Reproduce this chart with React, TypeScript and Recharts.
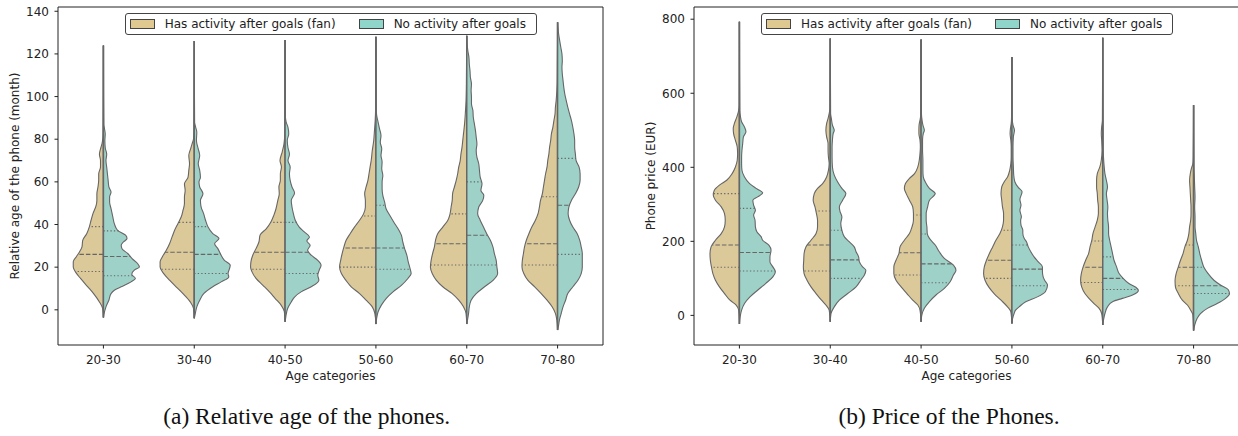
import React from "react";
import {
  ComposedChart,
  Scatter,
  XAxis,
  YAxis,
  ReferenceArea,
  Legend,
  Label,
  Curve,
} from "recharts";

const categories = ["20-30", "30-40", "40-50", "50-60", "60-70", "70-80"];
const groups = ["Has activity after goals (fan)", "No activity after goals"];
const ageTicks = [0, 20, 40, 60, 80, 100, 120, 140];
const priceTicks = [0, 200, 400, 600, 800];
const ageDomain = [-16.5, 142];
const priceDomain = [-80, 833];

// violin profiles: [value, relative half-width (1 = widest)]
const ageFan2030 = [[-3.6,0],[0.6,0.02],[3.7,0.11],[7.6,0.27],[10.8,0.43],[14.7,0.63],[17.8,0.77],[20.1,0.83],[22.5,0.83],[24.8,0.75],[27.1,0.66],[29.5,0.59],[32.6,0.57],[35.7,0.46],[38.8,0.39],[42,0.34],[45,0.29],[49,0.2],[51.3,0.18],[54.4,0.18],[57.6,0.15],[60.7,0.13],[63.8,0.13],[67,0.08],[70,0.08],[73,0.11],[76,0.07],[78.6,0.03],[82.5,0.01],[98,0.005],[124,0]];
const ageNo2030 = [[-3.6,0],[-2.5,0.01],[1.4,0.07],[4.5,0.15],[7.6,0.21],[9.2,0.3],[10.8,0.49],[13.1,0.76],[14.7,0.88],[16.7,0.78],[18.6,0.85],[20.1,0.99],[21.7,0.94],[24,0.79],[26.4,0.67],[28.7,0.51],[30.3,0.49],[31.8,0.55],[33.4,0.65],[35,0.61],[37.3,0.39],[40.4,0.3],[43.5,0.26],[47.4,0.21],[50.5,0.17],[52.9,0.17],[55.2,0.21],[57.6,0.15],[60.7,0.13],[63.8,0.11],[67,0.09],[70,0.07],[73,0.09],[76,0.05],[79.4,0.04],[82.5,0.05],[84.9,0.03],[87,0.01],[100,0.004],[124,0]];
const ageFan3040 = [[-4,0],[0.6,0.02],[3.7,0.11],[7.6,0.31],[10.8,0.5],[13.9,0.68],[17,0.84],[20.1,0.94],[22.5,0.94],[24.8,0.88],[27.9,0.77],[31,0.68],[34.2,0.61],[37.3,0.54],[40.4,0.45],[43.5,0.36],[46.6,0.31],[49.8,0.27],[52.9,0.27],[56,0.25],[59.1,0.27],[62.2,0.17],[65.4,0.15],[68.5,0.13],[72.4,0.15],[75.5,0.1],[77.8,0.06],[80.2,0.02],[84,0.01],[100,0.004],[126,0]];
const ageNo3040 = [[-4,0],[-2.5,0.02],[1.4,0.07],[4.5,0.15],[7.6,0.26],[10.8,0.51],[13.1,0.74],[15.4,0.95],[17,0.93],[19.3,0.97],[20.9,0.99],[23.2,0.83],[25.6,0.74],[28.7,0.65],[31,0.56],[33.4,0.68],[35.7,0.51],[38.8,0.38],[42,0.31],[45,0.26],[48.2,0.19],[51.3,0.17],[54.4,0.24],[57.6,0.15],[59.9,0.13],[62.2,0.17],[65.4,0.15],[68.5,0.11],[72.4,0.15],[75.5,0.11],[79.4,0.06],[83.3,0.07],[85.6,0.04],[88,0.01],[105,0.004],[126,0]];
const ageFan4050 = [[-5.6,0],[-0.9,0.02],[2.2,0.11],[5.3,0.27],[8.4,0.43],[11.5,0.61],[14.7,0.8],[17.8,0.91],[20.1,0.95],[22.5,0.94],[25.6,0.89],[28.7,0.8],[31.8,0.72],[35,0.69],[38,0.52],[41.2,0.39],[44.3,0.31],[47.4,0.25],[51.3,0.2],[54.4,0.16],[57.6,0.17],[60.7,0.13],[63.8,0.13],[67,0.1],[70,0.14],[74,0.08],[77.8,0.03],[82.5,0.01],[100,0.004],[126.5,0]];
const ageNo4050 = [[-5.6,0],[-3.3,0.02],[0.6,0.07],[3.7,0.17],[6,0.26],[8.4,0.44],[10.8,0.72],[13.9,0.93],[16.2,0.9],[18.6,0.94],[20.9,0.99],[23.2,0.9],[25.6,0.72],[27.9,0.62],[30.3,0.69],[32.3,0.6],[34.2,0.67],[36.5,0.53],[38.8,0.39],[42,0.28],[45,0.23],[48.2,0.19],[51.3,0.17],[54.8,0.26],[57.6,0.19],[60.7,0.14],[63.8,0.12],[67,0.14],[70,0.08],[73,0.12],[76,0.08],[79.4,0.06],[82.5,0.1],[85.6,0.08],[88,0.03],[90.3,0.01],[105,0.004],[126.5,0]];
const ageFan5060 = [[-6.7,0],[-1.7,0.03],[1.4,0.1],[4.5,0.27],[7.6,0.45],[10.8,0.68],[13.9,0.83],[17,0.95],[20.1,1],[23.2,0.97],[26.4,0.93],[29.5,0.88],[32.6,0.82],[35.7,0.71],[38.8,0.59],[42,0.45],[45,0.34],[48.2,0.29],[51.3,0.29],[54.4,0.31],[57.6,0.27],[60.7,0.22],[63.8,0.19],[67,0.16],[70,0.13],[74.7,0.1],[79.4,0.06],[84,0.04],[88.8,0.02],[93.4,0.01],[110,0.004],[128,0]];
const ageNo5060 = [[-6.7,0],[-4,0.02],[-0.9,0.06],[2.2,0.15],[5.3,0.28],[8.4,0.47],[11.5,0.7],[14.7,0.88],[17,0.97],[19.3,0.94],[22.5,0.89],[25.6,0.85],[28.7,0.79],[31.8,0.74],[35,0.7],[38,0.61],[41.2,0.49],[44.3,0.38],[47.4,0.28],[50.5,0.24],[53.7,0.19],[56.8,0.17],[59.9,0.17],[63,0.19],[66.1,0.16],[69.3,0.17],[72.4,0.14],[75.5,0.16],[78.6,0.12],[81.7,0.14],[84.9,0.1],[88,0.06],[90.3,0.03],[93.4,0.01],[110,0.004],[128,0]];
const ageFan6070 = [[-6.7,0],[-1.7,0.02],[1.4,0.09],[4.5,0.22],[7.6,0.4],[10.8,0.66],[13.9,0.84],[17,0.95],[20.1,1],[23.2,0.98],[26.4,0.94],[29.5,0.89],[32.6,0.86],[35.7,0.8],[38.8,0.66],[42,0.52],[45,0.46],[48.2,0.43],[51.3,0.4],[54.4,0.39],[57.6,0.34],[60.7,0.29],[63.8,0.25],[67,0.22],[70,0.18],[73,0.16],[76.3,0.13],[79.4,0.11],[82.5,0.09],[87.2,0.06],[91.9,0.04],[98,0.02],[106,0.01],[128.5,0]];
const ageNo6070 = [[-6.7,0],[-4.8,0.02],[-1.7,0.05],[1.4,0.07],[4.5,0.12],[7.6,0.26],[10.8,0.49],[13.9,0.73],[17,0.85],[20.1,0.83],[23.2,0.81],[26.4,0.76],[29.5,0.72],[32.6,0.65],[35.7,0.55],[38.8,0.46],[42,0.37],[45,0.3],[48.2,0.33],[51.3,0.44],[53.7,0.47],[56,0.39],[59.1,0.42],[62.2,0.37],[65.4,0.35],[68.5,0.33],[71.6,0.28],[74.7,0.26],[77.8,0.28],[81,0.26],[84,0.24],[87.2,0.21],[90.3,0.18],[93.4,0.17],[96.6,0.13],[99.7,0.13],[102.8,0.12],[106,0.13],[109,0.1],[112,0.09],[115.3,0.07],[118.4,0.06],[121.5,0.03],[124.6,0.01],[128.5,0]];
const ageFan7080 = [[-9.5,0],[-4.8,0.02],[-1.7,0.06],[1.4,0.15],[4.5,0.29],[7.6,0.45],[10.8,0.63],[13.9,0.82],[17,0.93],[20.1,0.98],[23.2,0.97],[26.4,0.94],[29.5,0.91],[32.6,0.86],[35.7,0.79],[38.8,0.71],[42,0.61],[45,0.54],[48.2,0.5],[51.3,0.47],[54.4,0.42],[57.6,0.39],[60.7,0.36],[63.8,0.33],[67,0.29],[70,0.27],[73,0.24],[76.3,0.22],[79.4,0.19],[82.5,0.17],[85.6,0.13],[88.8,0.1],[91.9,0.07],[95,0.06],[98,0.04],[102.8,0.02],[107.5,0.01],[134.8,0]];
const ageNo7080 = [[-9.5,0],[-8,0.02],[-4.8,0.05],[-1.7,0.1],[1.4,0.15],[4.5,0.22],[7.6,0.28],[10.8,0.42],[13.9,0.56],[17,0.65],[20.1,0.68],[23.2,0.68],[26.4,0.68],[29.5,0.65],[32.6,0.61],[35.7,0.54],[38.8,0.42],[42,0.33],[45,0.29],[48.2,0.31],[51.3,0.38],[54.4,0.49],[57.6,0.58],[60.7,0.62],[63.8,0.62],[67,0.59],[70,0.51],[73,0.49],[76.3,0.47],[79.4,0.47],[82.5,0.45],[85.6,0.42],[88.8,0.38],[91.9,0.33],[95,0.28],[98,0.24],[101,0.2],[104.4,0.17],[107.5,0.15],[110.6,0.13],[113.7,0.12],[116.8,0.13],[120,0.12],[123,0.09],[126,0.06],[129.2,0.03],[132.4,0.01],[134.8,0]];

const priceFan2030 = [[-23,0],[14,0.02],[28,0.09],[41,0.26],[59,0.41],[77,0.55],[95,0.66],[113,0.73],[131,0.77],[149,0.8],[167,0.81],[185,0.78],[203,0.66],[221,0.5],[239,0.41],[257,0.39],[275,0.41],[293,0.5],[311,0.66],[325,0.72],[338,0.69],[352,0.55],[365,0.35],[383,0.2],[401,0.11],[419,0.06],[437,0.05],[455,0.06],[473,0.11],[491,0.16],[505,0.17],[518,0.14],[536,0.07],[554,0.02],[568,0.005],[793,0]];
const priceNo2030 = [[-23,0],[-4,0.02],[14,0.06],[32,0.14],[50,0.29],[68,0.5],[86,0.72],[104,0.92],[118,0.99],[131,0.92],[145,0.84],[158,0.84],[176,0.87],[190,0.81],[203,0.64],[212,0.6],[226,0.48],[239,0.44],[257,0.43],[271,0.39],[284,0.44],[298,0.39],[311,0.37],[320,0.5],[331,0.64],[343,0.46],[356,0.28],[374,0.14],[392,0.07],[410,0.06],[428,0.06],[446,0.07],[464,0.09],[482,0.11],[496,0.18],[509,0.14],[523,0.06],[536,0.03],[554,0.01],[793,0]];
const priceFan3040 = [[-17,0],[14,0.03],[28,0.12],[41,0.24],[59,0.39],[77,0.53],[95,0.64],[113,0.72],[131,0.74],[149,0.73],[167,0.72],[185,0.67],[203,0.53],[221,0.39],[239,0.35],[257,0.35],[275,0.38],[293,0.42],[311,0.47],[329,0.44],[343,0.35],[356,0.21],[374,0.1],[392,0.05],[410,0.03],[428,0.05],[446,0.06],[464,0.06],[482,0.1],[500,0.12],[518,0.1],[532,0.06],[545,0.03],[559,0.01],[748,0]];
const priceNo3040 = [[-17,0],[5,0.02],[23,0.11],[41,0.25],[59,0.48],[77,0.71],[95,0.84],[109,0.94],[122,0.98],[131,0.89],[145,0.8],[158,0.78],[172,0.71],[185,0.66],[199,0.52],[212,0.39],[230,0.32],[248,0.29],[266,0.32],[280,0.27],[293,0.25],[311,0.34],[329,0.43],[343,0.32],[361,0.2],[379,0.11],[401,0.06],[428,0.05],[455,0.05],[473,0.06],[491,0.08],[500,0.11],[514,0.06],[532,0.03],[545,0.01],[748,0]];
const priceFan4050 = [[-17,0],[14,0.03],[28,0.09],[41,0.23],[59,0.39],[77,0.55],[95,0.69],[113,0.75],[131,0.75],[149,0.69],[167,0.61],[185,0.58],[203,0.46],[221,0.32],[239,0.25],[257,0.21],[275,0.21],[293,0.23],[311,0.32],[329,0.41],[343,0.46],[356,0.43],[370,0.32],[383,0.18],[401,0.09],[419,0.05],[437,0.03],[455,0.02],[473,0.03],[491,0.06],[505,0.06],[518,0.05],[532,0.02],[545,0.01],[745,0]];
const priceNo4050 = [[-17,0],[1,0.02],[19,0.09],[37,0.23],[55,0.41],[73,0.64],[91,0.8],[109,0.89],[122,0.96],[136,0.89],[154,0.64],[172,0.5],[190,0.39],[208,0.23],[221,0.17],[239,0.16],[257,0.14],[275,0.14],[293,0.18],[311,0.23],[329,0.39],[343,0.23],[356,0.14],[374,0.06],[392,0.05],[419,0.05],[446,0.04],[473,0.04],[491,0.06],[500,0.09],[514,0.05],[532,0.02],[545,0.01],[745,0]];
const priceFan5060 = [[-22,0],[10,0.03],[23,0.12],[41,0.3],[59,0.49],[77,0.64],[95,0.74],[113,0.78],[131,0.76],[149,0.7],[167,0.62],[185,0.53],[203,0.44],[221,0.33],[239,0.26],[257,0.23],[275,0.23],[293,0.26],[311,0.28],[329,0.3],[347,0.28],[361,0.21],[374,0.12],[392,0.06],[410,0.03],[428,0.02],[455,0.02],[473,0.03],[491,0.05],[505,0.04],[518,0.02],[536,0.01],[698,0]];
const priceNo5060 = [[-22,0],[-8,0.02],[5,0.06],[14,0.1],[23,0.2],[37,0.38],[50,0.7],[64,0.92],[82,0.98],[95,0.9],[104,0.86],[118,0.84],[131,0.84],[145,0.72],[158,0.61],[172,0.52],[185,0.45],[199,0.4],[208,0.34],[221,0.3],[230,0.3],[244,0.25],[257,0.24],[266,0.26],[284,0.22],[298,0.25],[313,0.22],[334,0.28],[345,0.18],[361,0.08],[379,0.05],[401,0.04],[428,0.03],[455,0.03],[482,0.04],[500,0.07],[514,0.03],[532,0.01],[698,0]];
const priceFan6070 = [[-26,0],[5,0.03],[19,0.1],[32,0.24],[46,0.38],[59,0.49],[77,0.58],[95,0.61],[113,0.59],[131,0.54],[149,0.47],[167,0.39],[185,0.35],[203,0.3],[221,0.27],[239,0.21],[257,0.15],[275,0.12],[293,0.12],[311,0.14],[329,0.15],[347,0.17],[365,0.17],[383,0.15],[401,0.08],[419,0.04],[446,0.02],[473,0.03],[491,0.04],[509,0.03],[527,0.01],[750,0]];
const priceNo6070 = [[-26,0],[-13,0.02],[5,0.06],[23,0.13],[37,0.27],[46,0.54],[55,0.82],[67,0.98],[76,0.91],[86,0.72],[100,0.56],[113,0.45],[131,0.38],[149,0.31],[167,0.27],[185,0.23],[203,0.19],[221,0.16],[239,0.16],[257,0.14],[275,0.13],[293,0.14],[311,0.12],[329,0.1],[347,0.13],[365,0.1],[383,0.06],[401,0.04],[428,0.02],[455,0.01],[491,0.01],[750,0]];
const priceFan7080 = [[-41,0],[1,0.02],[14,0.08],[28,0.17],[41,0.31],[59,0.42],[77,0.5],[95,0.51],[113,0.48],[131,0.42],[149,0.36],[167,0.29],[185,0.24],[203,0.17],[221,0.13],[239,0.11],[257,0.08],[275,0.07],[293,0.07],[311,0.08],[329,0.09],[347,0.1],[365,0.11],[383,0.09],[397,0.06],[410,0.02],[428,0.01],[568,0]];
const priceNo7080 = [[-41,0],[-26,0.03],[-8,0.1],[5,0.19],[19,0.38],[32,0.65],[46,0.88],[59,0.99],[70,0.95],[82,0.74],[95,0.56],[113,0.4],[131,0.28],[149,0.22],[167,0.17],[185,0.13],[203,0.08],[221,0.06],[239,0.04],[266,0.04],[293,0.03],[320,0.04],[347,0.03],[374,0.02],[401,0.01],[568,0]];

// quartiles [Q1, median, Q3] per category
const ageFanQuartiles = [[18,26,39],[19,27,41],[19,27,41],[20,29,44],[21,31,45],[21,31,53]];
const ageNoQuartiles = [[16,25,37],[17,26,39],[17,27,41],[19,29,49],[21,35,60],[26,49,71]];
const priceFanQuartiles = [[130,190,329],[120,190,282],[109,169,271],[100,149,230],[89,130,201],[80,130,190]];
const priceNoQuartiles = [[120,170,289],[100,150,230],[88,139,220],[80,125,190],[70,100,158],[59,80,130]];

const ageFan = [ageFan2030, ageFan3040, ageFan4050, ageFan5060, ageFan6070, ageFan7080];
const ageNo = [ageNo2030, ageNo3040, ageNo4050, ageNo5060, ageNo6070, ageNo7080];
const priceFan = [priceFan2030, priceFan3040, priceFan4050, priceFan5060, priceFan6070, priceFan7080];
const priceNo = [priceNo2030, priceNo3040, priceNo4050, priceNo5060, priceNo6070, priceNo7080];

const FAN_FILL = "#dcc99a";
const NO_FILL = "#9ed2c8";
const FAN_SWATCH = "#e0c991";
const NO_SWATCH = "#90d5c9";
const LINE = "#666";
const INK = "#222";
const FONT = "DejaVu Sans";

const HALF = 0.4; // half of seaborn's violin width
const CHART_W = 620;
const CHART_H = 400;
const MARGIN = { top: 7, right: 17, bottom: 0, left: 8 };
const Y_AXIS_W = 50;
const X_AXIS_H = 55;
const PLOT_L = MARGIN.left + Y_AXIS_W;
const PLOT_R = CHART_W - MARGIN.right;
const PLOT_B = CHART_H - MARGIN.bottom - X_AXIS_H;

function outline(profile: number[][], i: number, side: number) {
  // top to bottom so the curve is monotone in screen y
  return profile
    .slice()
    .reverse()
    .map(([v, d]) => ({ x: i + side * d * HALF, v }));
}

function widthAt(profile: number[][], q: number) {
  for (let k = 1; k < profile.length; k++) {
    const [v0, d0] = profile[k - 1];
    const [v1, d1] = profile[k];
    if (q >= v0 && q <= v1) return d0 + ((d1 - d0) * (q - v0)) / (v1 - v0);
  }
  return 0;
}

const NoPoint = () => <g />;

const halfViolin = (fill: string) => (props: any) => {
  const pts = props.points || [];
  if (pts.length < 2) return <g />;
  const a = pts[0];
  const b = pts[pts.length - 1];
  return (
    <g>
      <Curve points={pts} type="monotoneY" fill={fill} stroke={LINE} strokeWidth={1.1} />
      <line x1={a.x} y1={a.y} x2={b.x} y2={b.y} stroke={LINE} strokeWidth={1.5} />
    </g>
  );
};

const quartileLine = (dash: string) => (props: any) => {
  const pts = props.points || [];
  if (pts.length < 2) return <g />;
  return (
    <line
      x1={pts[0].x}
      y1={pts[0].y}
      x2={pts[1].x}
      y2={pts[1].y}
      stroke={LINE}
      strokeWidth={1.1}
      strokeDasharray={dash}
    />
  );
};

const LegendBox = () => (
  <div
    style={{
      boxSizing: "border-box",
      width: 412,
      height: 22,
      border: "1px solid #444",
      borderRadius: 3,
      background: "#fff",
      display: "flex",
      alignItems: "center",
      paddingLeft: 4,
      fontFamily: FONT,
      fontSize: 12,
      color: INK,
      lineHeight: 1,
    }}
  >
    {groups.map((g, k) => (
      <div key={g} style={{ display: "flex", alignItems: "center", marginRight: k === 0 ? 23 : 0 }}>
        <span
          style={{
            display: "inline-block",
            boxSizing: "border-box",
            width: 25,
            height: 10,
            border: "1px solid #444",
            background: k === 0 ? FAN_SWATCH : NO_SWATCH,
            marginRight: 10,
          }}
        />
        <span>{g}</span>
      </div>
    ))}
  </div>
);

function ViolinPanel({ left, fan, none, fanQ, noneQ, domain, ticks, yLabel }: any) {
  const quartileSeries: any[] = [];
  [
    { profiles: fan, qs: fanQ, side: -1 },
    { profiles: none, qs: noneQ, side: 1 },
  ].forEach(({ profiles, qs, side }) => {
    qs.forEach((q: number[], i: number) => {
      q.forEach((val: number, k: number) => {
        const w = widthAt(profiles[i], val) * HALF;
        quartileSeries.push(
          <Scatter
            key={`q${side}-${i}-${k}`}
            data={[
              { x: i, v: val },
              { x: i + side * w, v: val },
            ]}
            shape={NoPoint}
            line={quartileLine(k === 1 ? "4.5 2" : "1.3 2.2")}
            lineType="joint"
            legendType="none"
            isAnimationActive={false}
          />
        );
      });
    });
  });

  return (
    <div style={{ position: "absolute", left, top: 0 }}>
      <ComposedChart width={CHART_W} height={CHART_H} margin={MARGIN} style={{ fontFamily: FONT }}>
        <XAxis
          type="number"
          dataKey="x"
          domain={[-0.5, 5.5]}
          ticks={[0, 1, 2, 3, 4, 5]}
          interval={0}
          tickFormatter={(t: number) => categories[t]}
          allowDataOverflow
          axisLine={false}
          tickLine={{ stroke: INK }}
          tickSize={3.5}
          tickMargin={6.5}
          height={X_AXIS_H}
          tick={{ fontSize: 12, fill: INK, fontFamily: FONT }}
        >
          <Label
            content={() => (
              <text
                x={(PLOT_L + PLOT_R) / 2}
                y={PLOT_B + 30.5}
                textAnchor="middle"
                dominantBaseline="central"
                fontSize={12}
                fill={INK}
                fontFamily={FONT}
              >
                Age categories
              </text>
            )}
          />
        </XAxis>
        <YAxis
          type="number"
          dataKey="v"
          domain={domain}
          ticks={ticks}
          interval={0}
          allowDataOverflow
          axisLine={false}
          tickLine={{ stroke: INK }}
          tickSize={3.5}
          tickMargin={5.5}
          width={Y_AXIS_W}
          tick={{ fontSize: 12, fill: INK, fontFamily: FONT }}
        >
          <Label
            content={() => {
              const x = 15.3;
              const y = (MARGIN.top + PLOT_B) / 2;
              return (
                <text
                  x={x}
                  y={y}
                  transform={`rotate(-90, ${x}, ${y})`}
                  textAnchor="middle"
                  dominantBaseline="central"
                  fontSize={12}
                  fill={INK}
                  fontFamily={FONT}
                >
                  {yLabel}
                </text>
              );
            }}
          />
        </YAxis>
        {fan.map((p: number[][], i: number) => (
          <Scatter
            key={`fan${i}`}
            data={outline(p, i, -1)}
            shape={NoPoint}
            line={halfViolin(FAN_FILL)}
            lineType="joint"
            legendType="none"
            isAnimationActive={false}
          />
        ))}
        {none.map((p: number[][], i: number) => (
          <Scatter
            key={`no${i}`}
            data={outline(p, i, 1)}
            shape={NoPoint}
            line={halfViolin(NO_FILL)}
            lineType="joint"
            legendType="none"
            isAnimationActive={false}
          />
        ))}
        {quartileSeries}
        <ReferenceArea
          x1={-0.5}
          x2={5.5}
          y1={domain[0]}
          y2={domain[1]}
          fill="none"
          stroke={INK}
          strokeWidth={1}
          ifOverflow="visible"
        />
        <Legend
          verticalAlign="middle"
          align="center"
          layout="horizontal"
          wrapperStyle={{ top: 12.5, left: PLOT_L + 66.7, width: 412, height: 22 }}
          content={() => <LegendBox />}
        />
      </ComposedChart>
    </div>
  );
}

const captionStyle: React.CSSProperties = {
  position: "absolute",
  top: 405.3,
  width: 600,
  textAlign: "center",
  fontFamily: "Liberation Serif",
  fontSize: 23.5,
  lineHeight: 1,
  color: "#111",
  whiteSpace: "nowrap",
};

export default function App() {
  return (
    <div
      style={{
        position: "fixed",
        left: 0,
        top: 0,
        width: 1238,
        height: 436,
        overflow: "hidden",
        background: "#fff",
      }}
    >
      <ViolinPanel
        left={0}
        fan={ageFan}
        none={ageNo}
        fanQ={ageFanQuartiles}
        noneQ={ageNoQuartiles}
        domain={ageDomain}
        ticks={ageTicks}
        yLabel="Relative age of the phone (month)"
      />
      <ViolinPanel
        left={636.4}
        fan={priceFan}
        none={priceNo}
        fanQ={priceFanQuartiles}
        noneQ={priceNoQuartiles}
        domain={priceDomain}
        ticks={priceTicks}
        yLabel="Phone price (EUR)"
      />
      <div style={{ ...captionStyle, left: 306.7 - 300 }}>(a) Relative age of the phones.</div>
      <div style={{ ...captionStyle, left: 949 - 300 }}>(b) Price of the Phones.</div>
    </div>
  );
}
